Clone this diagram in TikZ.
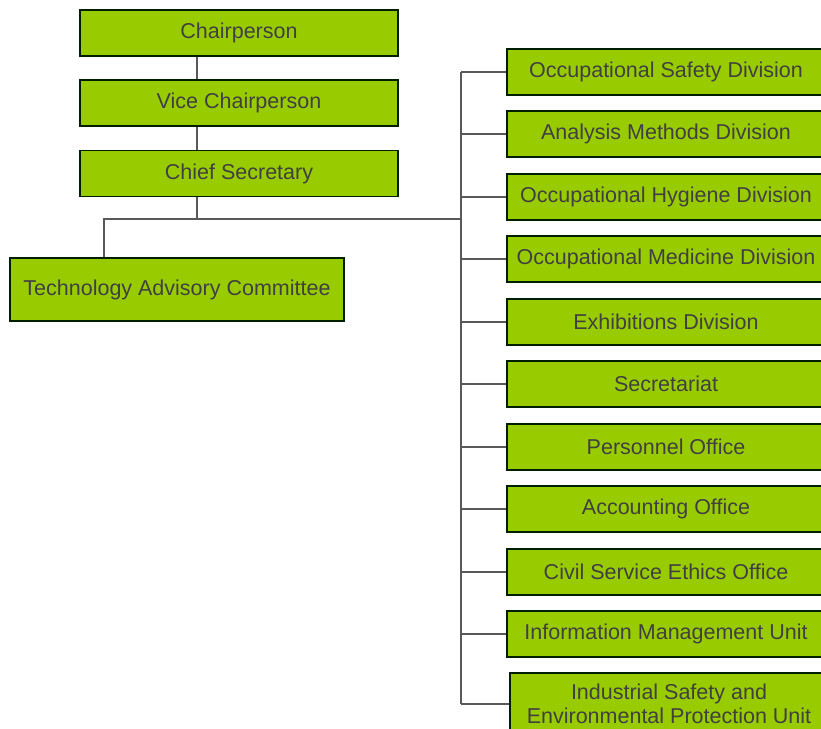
\documentclass[tikz,border=0pt]{standalone}
\usepackage{fontspec}
\setmainfont{Liberation Sans}
\begin{document}
\begin{tikzpicture}[x=1pt,y=-1pt,
  orgbox/.style={draw=black!80!green!60!black, line width=1.6pt, fill=boxgreen,
    text=black!75, font=\fontsize{21.5}{23.5}\selectfont, inner sep=0pt, align=center,
    minimum width=318pt, minimum height=46pt},
  link/.style={draw=black!65, line width=1.8pt}]
\definecolor{boxgreen}{HTML}{99CC00}
\useasboundingbox (0,0) rectangle (821,728);
\clip (0,0) rectangle (821,728);
\fill[white] (0,0) rectangle (821,728);
% left column
\node[orgbox] (chair) at (239,33) {Chairperson};
\node[orgbox] (vice) at (239,103) {Vice Chairperson};
\node[orgbox] (chief) at (239,173.5) {Chief Secretary};
\node[orgbox, minimum width=334pt, minimum height=63pt] (tac) at (177,289.5) {Technology Advisory Committee};
% right column
\node[orgbox] (d1) at (666,72) {Occupational Safety Division};
\node[orgbox] (d2) at (666,134) {Analysis Methods Division};
\node[orgbox] (d3) at (666,197) {Occupational Hygiene Division};
\node[orgbox] (d4) at (666,259) {Occupational Medicine Division};
\node[orgbox] (d5) at (666,322) {Exhibitions Division};
\node[orgbox] (d6) at (666,384) {Secretariat};
\node[orgbox] (d7) at (666,447) {Personnel Office};
\node[orgbox] (d8) at (666,509) {Accounting Office};
\node[orgbox] (d9) at (666,572) {Civil Service Ethics Office};
\node[orgbox] (d10) at (666,634) {Information Management Unit};
\node[orgbox, minimum height=62pt] (d11) at (669,704) {Industrial Safety and\\Environmental Protection Unit};
% connector helpers
\coordinate (spine) at (197,219);
\coordinate (tacx) at (104,219);
\coordinate (trunk) at (461,219);
\draw[link] (chair.south -| spine) -- (vice.north -| spine);
\draw[link] (vice.south -| spine) -- (chief.north -| spine);
\draw[link] (chief.south -| spine) -- (spine);
\draw[link] (tac.north -| tacx) -- (tacx) -- (trunk);
\draw[link] (d1.west -| trunk) -- (d11.west -| trunk);
\foreach \n in {d1,d2,d3,d4,d5,d6,d7,d8,d9,d10,d11}
  \draw[link] (\n.west -| trunk) -- (\n.west);
\end{tikzpicture}
\end{document}
